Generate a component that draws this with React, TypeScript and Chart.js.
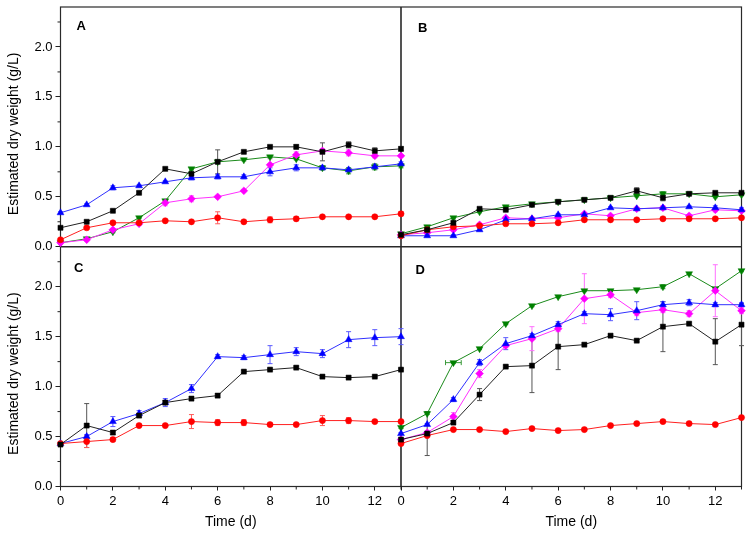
import { useEffect, useRef } from 'react';
import { Chart, registerables } from 'chart.js';

Chart.register(...registerables);

// ---------- data ----------
const days = [0, 1, 2, 3, 4, 5, 6, 7, 8, 9, 10, 11, 12, 13];
const xMax = 13;
const yMax = 2.4;
const yTitle = 'Estimated dry weight (g/L)';
const xTitle = 'Time (d)';
const panelLetters = ['A', 'B', 'C', 'D'];

// Panel A
const A_black = [0.19, 0.25, 0.36, 0.54, 0.78, 0.73, 0.85, 0.95, 1.0, 1.0, 0.95, 1.02, 0.96, 0.98];
const A_black_err = [0.01, 0.01, 0.01, 0.01, 0.01, 0.01, 0.12, 0.01, 0.01, 0.02, 0.09, 0.03, 0.03, 0.02];
const A_red = [0.07, 0.19, 0.24, 0.24, 0.26, 0.25, 0.29, 0.25, 0.27, 0.28, 0.3, 0.3, 0.3, 0.33];
const A_red_err = [0.01, 0.01, 0.01, 0.01, 0.01, 0.01, 0.06, 0.01, 0.03, 0.02, 0.01, 0.01, 0.01, 0.02];
const A_blue = [0.34, 0.42, 0.59, 0.61, 0.65, 0.69, 0.7, 0.7, 0.75, 0.79, 0.79, 0.77, 0.8, 0.83];
const A_blue_err = [0.01, 0.01, 0.02, 0.01, 0.01, 0.02, 0.02, 0.02, 0.04, 0.03, 0.02, 0.02, 0.02, 0.02];
const A_green = [0.04, 0.08, 0.15, 0.29, 0.46, 0.78, 0.85, 0.87, 0.9, 0.88, 0.79, 0.76, 0.8, 0.81];
const A_green_err = [0.01, 0.01, 0.01, 0.01, 0.01, 0.01, 0.01, 0.01, 0.01, 0.01, 0.02, 0.03, 0.03, 0.02];
const A_magenta = [0.04, 0.07, 0.17, 0.23, 0.44, 0.48, 0.5, 0.56, 0.82, 0.92, 0.96, 0.94, 0.91, 0.91];
const A_magenta_err = [0.01, 0.01, 0.01, 0.01, 0.03, 0.03, 0.01, 0.01, 0.06, 0.03, 0.02, 0.03, 0.02, 0.01];

// Panel B
const B_black = [0.12, 0.17, 0.24, 0.38, 0.37, 0.42, 0.45, 0.47, 0.49, 0.56, 0.49, 0.53, 0.54, 0.54];
const B_black_err = [0.01, 0.01, 0.01, 0.01, 0.01, 0.01, 0.01, 0.01, 0.01, 0.03, 0.03, 0.01, 0.01, 0.01];
const B_red = [0.11, 0.17, 0.2, 0.21, 0.23, 0.23, 0.24, 0.27, 0.27, 0.27, 0.28, 0.28, 0.28, 0.29];
const B_red_err = [0.01, 0.01, 0.01, 0.01, 0.01, 0.01, 0.01, 0.01, 0.01, 0.01, 0.01, 0.01, 0.01, 0.01];
const B_blue = [0.11, 0.11, 0.11, 0.17, 0.27, 0.28, 0.32, 0.32, 0.39, 0.38, 0.39, 0.4, 0.39, 0.37];
const B_blue_err = [0.01, 0.01, 0.01, 0.01, 0.01, 0.01, 0.01, 0.01, 0.01, 0.01, 0.01, 0.01, 0.02, 0.02];
const B_green = [0.13, 0.2, 0.29, 0.35, 0.4, 0.43, 0.45, 0.47, 0.49, 0.51, 0.53, 0.53, 0.5, 0.52];
const B_green_err = [0.01, 0.01, 0.01, 0.01, 0.01, 0.01, 0.01, 0.01, 0.01, 0.01, 0.02, 0.01, 0.01, 0.01];
const B_magenta = [0.12, 0.14, 0.17, 0.22, 0.29, 0.28, 0.29, 0.33, 0.31, 0.38, 0.39, 0.31, 0.37, 0.36];
const B_magenta_err = [0.01, 0.01, 0.01, 0.01, 0.01, 0.01, 0.01, 0.01, 0.01, 0.01, 0.02, 0.01, 0.02, 0.01];

// Panel C
const C_black = [0.42, 0.61, 0.54, 0.71, 0.84, 0.88, 0.91, 1.15, 1.17, 1.19, 1.1, 1.09, 1.1, 1.17];
const C_black_err = [0.01, 0.22, 0.02, 0.02, 0.02, 0.02, 0.02, 0.01, 0.01, 0.01, 0.01, 0.01, 0.01, 0.01];
const C_red = [0.43, 0.45, 0.47, 0.61, 0.61, 0.65, 0.64, 0.64, 0.62, 0.62, 0.66, 0.66, 0.65, 0.65];
const C_red_err = [0.01, 0.06, 0.02, 0.01, 0.01, 0.07, 0.03, 0.03, 0.01, 0.01, 0.05, 0.03, 0.01, 0.01];
const C_blue = [0.43, 0.5, 0.65, 0.73, 0.84, 0.98, 1.3, 1.29, 1.32, 1.35, 1.33, 1.47, 1.49, 1.5];
const C_blue_err = [0.01, 0.02, 0.05, 0.03, 0.04, 0.04, 0.02, 0.02, 0.09, 0.04, 0.04, 0.08, 0.08, 0.08];

// Panel D
const D_black = [0.47, 0.53, 0.64, 0.92, 1.2, 1.21, 1.4, 1.42, 1.51, 1.46, 1.6, 1.63, 1.45, 1.62];
const D_black_err = [0.01, 0.22, 0.02, 0.06, 0.01, 0.27, 0.23, 0.01, 0.01, 0.01, 0.25, 0.01, 0.23, 0.21];
const D_red = [0.43, 0.51, 0.57, 0.57, 0.55, 0.58, 0.56, 0.57, 0.61, 0.63, 0.65, 0.63, 0.62, 0.69];
const D_red_err = [0.01, 0.01, 0.01, 0.01, 0.01, 0.01, 0.01, 0.01, 0.01, 0.01, 0.01, 0.01, 0.01, 0.01];
const D_blue = [0.53, 0.62, 0.87, 1.24, 1.43, 1.51, 1.62, 1.73, 1.72, 1.76, 1.82, 1.84, 1.82, 1.82];
const D_blue_err = [0.01, 0.01, 0.02, 0.03, 0.06, 0.02, 0.03, 0.02, 0.06, 0.09, 0.03, 0.03, 0.02, 0.02];
const D_green = [0.59, 0.73, 1.24, 1.38, 1.63, 1.81, 1.9, 1.96, 1.96, 1.97, 2.0, 2.13, 1.98, 2.16];
const D_green_err = [0.01, 0.01, 0.01, 0.01, 0.01, 0.01, 0.01, 0.01, 0.01, 0.01, 0.02, 0.01, 0.01, 0.01];
const D_green_xerr = [0, 0, 0.3, 0, 0, 0, 0, 0, 0, 0, 0, 0, 0, 0];
const D_magenta = [0.47, 0.54, 0.7, 1.13, 1.41, 1.48, 1.58, 1.88, 1.92, 1.74, 1.77, 1.73, 1.96, 1.76];
const D_magenta_err = [0.01, 0.01, 0.04, 0.04, 0.02, 0.12, 0.03, 0.25, 0.03, 0.03, 0.03, 0.03, 0.26, 0.03];

// ---------- styling ----------
const FONT = "'Liberation Sans', Arial, Helvetica, sans-serif";

const STYLE: Record<string, any> = {
  black: { color: '#000000', line: '#222222', err: '#555555', pointStyle: 'rect', rotation: 0, radius: 3.6 },
  red: { color: '#ff0000', line: '#ff2020', err: '#ff5a5a', pointStyle: 'circle', rotation: 0, radius: 3.1 },
  blue: { color: '#0000ff', line: '#3030ff', err: '#5a5aff', pointStyle: 'triangle', rotation: 0, radius: 4 },
  magenta: { color: '#ff00ff', line: '#ff30ff', err: '#ff70ff', pointStyle: 'rectRot', rotation: 0, radius: 3.9 },
  green: { color: '#008000', line: '#1a8a1a', err: '#3a9a3a', pointStyle: 'triangle', rotation: 180, radius: 4 },
};

function series(key: string, values: number[], errs: number[], xId: string, yId: string, xerrs?: number[]) {
  const s = STYLE[key];
  return {
    label: key,
    data: days.map((d, i) => ({ x: d, y: values[i] })),
    xAxisID: xId,
    yAxisID: yId,
    borderColor: s.line,
    backgroundColor: s.color,
    pointBackgroundColor: s.color,
    pointBorderColor: s.color,
    pointBorderWidth: 0.5,
    pointStyle: s.pointStyle,
    pointRotation: s.rotation,
    pointRadius: s.radius,
    borderWidth: 1,
    tension: 0,
    fill: false,
    clip: false,
    errors: errs,
    xerrors: xerrs,
    errColor: s.err,
  };
}

const errorBarPlugin = {
  id: 'errorBars',
  beforeDatasetsDraw(chart: any) {
    const ctx = chart.ctx;
    chart.data.datasets.forEach((ds: any) => {
      const xs = chart.scales[ds.xAxisID];
      const ys = chart.scales[ds.yAxisID];
      ctx.save();
      ctx.strokeStyle = ds.errColor;
      ctx.lineWidth = 1;
      ds.data.forEach((p: any, j: number) => {
        const px = xs.getPixelForValue(p.x);
        const py = ys.getPixelForValue(p.y);
        const e = ds.errors ? ds.errors[j] : 0;
        if (e > 0) {
          const y1 = ys.getPixelForValue(p.y + e);
          const y2 = ys.getPixelForValue(p.y - e);
          ctx.beginPath();
          ctx.moveTo(px, y1);
          ctx.lineTo(px, y2);
          ctx.moveTo(px - 2.5, y1);
          ctx.lineTo(px + 2.5, y1);
          ctx.moveTo(px - 2.5, y2);
          ctx.lineTo(px + 2.5, y2);
          ctx.stroke();
        }
        const xe = ds.xerrors ? ds.xerrors[j] : 0;
        if (xe > 0) {
          const x1 = xs.getPixelForValue(p.x - xe);
          const x2 = xs.getPixelForValue(p.x + xe);
          ctx.beginPath();
          ctx.moveTo(x1, py);
          ctx.lineTo(x2, py);
          ctx.moveTo(x1, py - 2.5);
          ctx.lineTo(x1, py + 2.5);
          ctx.moveTo(x2, py - 2.5);
          ctx.lineTo(x2, py + 2.5);
          ctx.stroke();
        }
      });
      ctx.restore();
    });
  },
};

const framePlugin = {
  id: 'frames',
  beforeDatasetsDraw(chart: any) {
    const ctx = chart.ctx;
    const { xL, xR, yT, yB } = chart.scales;
    const left = xL.getPixelForValue(0);
    const mid = xL.getPixelForValue(xMax);
    const right = xR.getPixelForValue(xMax);
    const top = yT.getPixelForValue(yMax);
    const hmid = yT.getPixelForValue(0);
    const bottom = yB.getPixelForValue(0);
    ctx.save();
    ctx.strokeStyle = '#2a2a2a';
    ctx.lineWidth = 1.2;
    ctx.strokeRect(left, top, right - left, bottom - top);
    ctx.lineWidth = 1.6;
    ctx.beginPath();
    ctx.moveTo(mid, top);
    ctx.lineTo(mid, bottom);
    ctx.moveTo(left, hmid);
    ctx.lineTo(right, hmid);
    ctx.stroke();

    // minor ticks
    ctx.lineWidth = 1;
    ctx.strokeStyle = '#222';
    ctx.beginPath();
    [yT, yB].forEach((ys: any) => {
      for (let v = 0.25; v < yMax; v += 0.5) {
        const py = ys.getPixelForValue(v);
        ctx.moveTo(left - 3, py);
        ctx.lineTo(left, py);
      }
    });
    [xL, xR].forEach((xs: any) => {
      for (let d = 1; d <= xMax; d += 2) {
        const px = xs.getPixelForValue(d);
        ctx.moveTo(px, bottom);
        ctx.lineTo(px, bottom + 3);
      }
    });
    ctx.stroke();

    // y-axis titles (one per row of panels)
    ctx.fillStyle = '#000';
    ctx.font = `14px ${FONT}`;
    ctx.textAlign = 'center';
    ctx.textBaseline = 'middle';
    [yT, yB].forEach((ys: any) => {
      const cy = (ys.top + ys.bottom) / 2 + 7;
      ctx.save();
      ctx.translate(14, cy);
      ctx.rotate(-Math.PI / 2);
      ctx.fillText(yTitle, 0, 0);
      ctx.restore();
    });

    // panel letters
    ctx.font = `bold 13px ${FONT}`;
    ctx.textAlign = 'left';
    ctx.textBaseline = 'alphabetic';
    ctx.fillText(panelLetters[0], left + 16, top + 23);
    ctx.fillText(panelLetters[1], mid + 17, top + 24.5);
    ctx.fillText(panelLetters[2], left + 13.5, hmid + 25.5);
    ctx.fillText(panelLetters[3], mid + 14.5, hmid + 27);
    ctx.restore();
  },
};

function noPad(scale: any) {
  scale.paddingTop = 0;
  scale.paddingBottom = 0;
  scale.paddingLeft = 0;
  scale.paddingRight = 0;
}

function xScale(weight: number) {
  return {
    type: 'linear',
    position: 'bottom',
    stack: 'x',
    stackWeight: 1,
    weight,
    min: 0,
    max: xMax,
    afterFit: (s: any) => {
      s.height = 48.5;
      noPad(s);
    },
    border: { display: false },
    grid: {
      display: true,
      drawOnChartArea: false,
      drawTicks: true,
      tickLength: 4,
      tickWidth: 1,
      tickColor: (c: any) => (c.tick && c.tick.value % 2 === 0 ? '#222' : 'rgba(0,0,0,0)'),
    },
    ticks: {
      stepSize: 1,
      autoSkip: false,
      maxRotation: 0,
      includeBounds: false,
      padding: 3,
      color: '#000',
      font: { family: FONT, size: 13 },
      callback: (v: any) => (Number(v) % 2 === 0 ? String(v) : ''),
    },
    title: {
      display: true,
      text: xTitle,
      color: '#000',
      font: { family: FONT, size: 14 },
      padding: { top: 0, bottom: 4.6 },
    },
  };
}

function yScale(weight: number) {
  return {
    type: 'linear',
    position: 'left',
    stack: 'y',
    stackWeight: 1,
    weight,
    min: 0,
    max: yMax,
    afterFit: (s: any) => {
      s.width = 60.5;
      noPad(s);
    },
    border: { display: false },
    grid: {
      display: true,
      drawOnChartArea: false,
      drawTicks: true,
      tickLength: 5,
      tickWidth: 1,
      tickColor: (c: any) => (c.tick && Math.abs((c.tick.value * 2) % 1) < 1e-9 ? '#222' : 'rgba(0,0,0,0)'),
    },
    ticks: {
      stepSize: 0.25,
      autoSkip: false,
      includeBounds: false,
      padding: 3,
      color: '#000',
      font: { family: FONT, size: 13 },
      callback: (v: any) => (Math.abs((Number(v) * 2) % 1) < 1e-9 ? Number(v).toFixed(1) : ''),
    },
    title: { display: false },
  };
}

export default function App() {
  const ref = useRef<HTMLCanvasElement | null>(null);

  useEffect(() => {
    if (!ref.current) return;
    const datasets = [
      // A
      series('black', A_black, A_black_err, 'xL', 'yT'),
      series('red', A_red, A_red_err, 'xL', 'yT'),
      series('blue', A_blue, A_blue_err, 'xL', 'yT'),
      series('magenta', A_magenta, A_magenta_err, 'xL', 'yT'),
      series('green', A_green, A_green_err, 'xL', 'yT'),
      // B
      series('black', B_black, B_black_err, 'xR', 'yT'),
      series('red', B_red, B_red_err, 'xR', 'yT'),
      series('blue', B_blue, B_blue_err, 'xR', 'yT'),
      series('magenta', B_magenta, B_magenta_err, 'xR', 'yT'),
      series('green', B_green, B_green_err, 'xR', 'yT'),
      // C
      series('black', C_black, C_black_err, 'xL', 'yB'),
      series('red', C_red, C_red_err, 'xL', 'yB'),
      series('blue', C_blue, C_blue_err, 'xL', 'yB'),
      // D
      series('black', D_black, D_black_err, 'xR', 'yB'),
      series('red', D_red, D_red_err, 'xR', 'yB'),
      series('blue', D_blue, D_blue_err, 'xR', 'yB'),
      series('magenta', D_magenta, D_magenta_err, 'xR', 'yB'),
      series('green', D_green, D_green_err, 'xR', 'yB', D_green_xerr),
    ];

    const chart = new Chart(ref.current, {
      type: 'line',
      data: { datasets: datasets as any },
      plugins: [framePlugin, errorBarPlugin],
      options: {
        animation: false,
        responsive: false,
        maintainAspectRatio: false,
        devicePixelRatio: 1,
        layout: { padding: { top: 7, right: 7.5, left: 0, bottom: 0 } },
        plugins: {
          legend: { display: false },
          tooltip: { enabled: false },
        },
        scales: {
          xL: xScale(1),
          xR: xScale(2),
          yT: yScale(2),
          yB: yScale(1),
        } as any,
      },
    });
    return () => chart.destroy();
  }, []);

  return (
    <div style={{ position: 'absolute', left: 0, top: 0, width: 749, height: 535, background: '#fff' }}>
      <canvas ref={ref} width={749} height={535} style={{ display: 'block', width: 749, height: 535 }} />
    </div>
  );
}
